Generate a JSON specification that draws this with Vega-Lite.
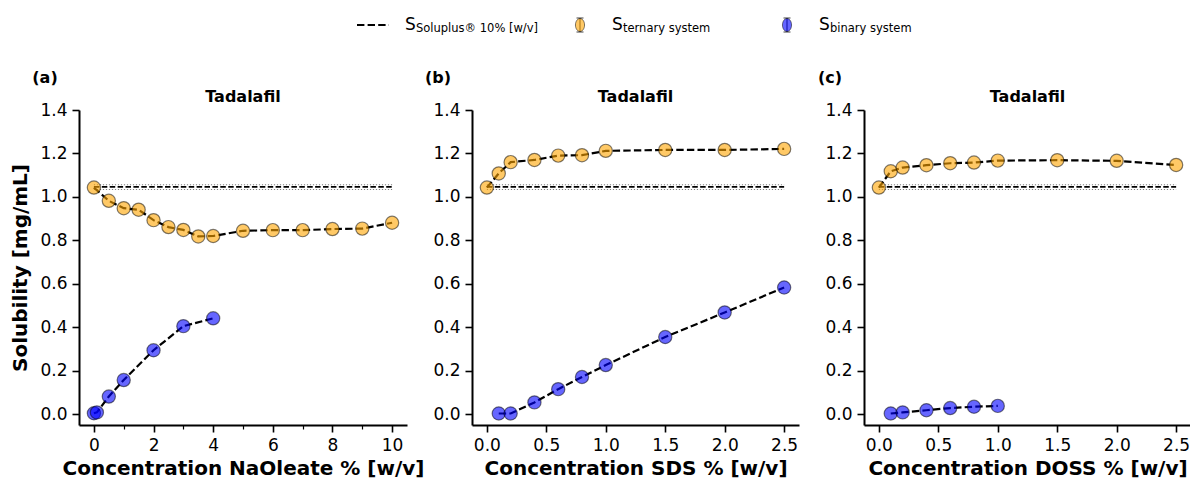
{
  "$schema": "https://vega.github.io/schema/vega-lite/v6.json",
  "padding": {"left": 10, "top": 10, "right": 0, "bottom": 0},
  "background": "white",
  "config": {
    "font": "DejaVu Sans",
    "view": {"stroke": null},
    "axis": {
      "grid": false,
      "domainColor": "black",
      "domainWidth": 2,
      "tickColor": "black",
      "tickWidth": 1.6,
      "tickSize": 7,
      "labelFont": "DejaVu Sans",
      "labelFontSize": 17,
      "labelColor": "black",
      "labelPadding": 5,
      "titleFont": "DejaVu Sans",
      "titleFontSize": 20,
      "titleFontWeight": "bold",
      "titleColor": "black"
    }
  },
  "datasets": {
    "series": [
      {"panel": "a", "sys": "ternary", "x": 0, "y": 1.043},
      {"panel": "a", "sys": "ternary", "x": 0.5, "y": 0.982},
      {"panel": "a", "sys": "ternary", "x": 1, "y": 0.948},
      {"panel": "a", "sys": "ternary", "x": 1.5, "y": 0.941},
      {"panel": "a", "sys": "ternary", "x": 2, "y": 0.893},
      {"panel": "a", "sys": "ternary", "x": 2.5, "y": 0.861},
      {"panel": "a", "sys": "ternary", "x": 3, "y": 0.848},
      {"panel": "a", "sys": "ternary", "x": 3.5, "y": 0.818},
      {"panel": "a", "sys": "ternary", "x": 4, "y": 0.82},
      {"panel": "a", "sys": "ternary", "x": 5, "y": 0.844},
      {"panel": "a", "sys": "ternary", "x": 6, "y": 0.847},
      {"panel": "a", "sys": "ternary", "x": 7, "y": 0.847},
      {"panel": "a", "sys": "ternary", "x": 8, "y": 0.852},
      {"panel": "a", "sys": "ternary", "x": 9, "y": 0.854},
      {"panel": "a", "sys": "ternary", "x": 10, "y": 0.881},
      {"panel": "a", "sys": "binary", "x": 0, "y": 0.004},
      {"panel": "a", "sys": "binary", "x": 0.1, "y": 0.008},
      {"panel": "a", "sys": "binary", "x": 0.5, "y": 0.081},
      {"panel": "a", "sys": "binary", "x": 1, "y": 0.157},
      {"panel": "a", "sys": "binary", "x": 2, "y": 0.294},
      {"panel": "a", "sys": "binary", "x": 3, "y": 0.405},
      {"panel": "a", "sys": "binary", "x": 4, "y": 0.441},
      {"panel": "b", "sys": "ternary", "x": 0, "y": 1.043},
      {"panel": "b", "sys": "ternary", "x": 0.1, "y": 1.108},
      {"panel": "b", "sys": "ternary", "x": 0.2, "y": 1.16},
      {"panel": "b", "sys": "ternary", "x": 0.4, "y": 1.17},
      {"panel": "b", "sys": "ternary", "x": 0.6, "y": 1.19},
      {"panel": "b", "sys": "ternary", "x": 0.8, "y": 1.192},
      {"panel": "b", "sys": "ternary", "x": 1, "y": 1.212},
      {"panel": "b", "sys": "ternary", "x": 1.5, "y": 1.216},
      {"panel": "b", "sys": "ternary", "x": 2, "y": 1.216},
      {"panel": "b", "sys": "ternary", "x": 2.5, "y": 1.221},
      {"panel": "b", "sys": "binary", "x": 0.1, "y": 0.003},
      {"panel": "b", "sys": "binary", "x": 0.2, "y": 0.003},
      {"panel": "b", "sys": "binary", "x": 0.4, "y": 0.054},
      {"panel": "b", "sys": "binary", "x": 0.6, "y": 0.115},
      {"panel": "b", "sys": "binary", "x": 0.8, "y": 0.171},
      {"panel": "b", "sys": "binary", "x": 1, "y": 0.226},
      {"panel": "b", "sys": "binary", "x": 1.5, "y": 0.355},
      {"panel": "b", "sys": "binary", "x": 2, "y": 0.468},
      {"panel": "b", "sys": "binary", "x": 2.5, "y": 0.583},
      {"panel": "c", "sys": "ternary", "x": 0, "y": 1.043},
      {"panel": "c", "sys": "ternary", "x": 0.1, "y": 1.118},
      {"panel": "c", "sys": "ternary", "x": 0.2, "y": 1.135},
      {"panel": "c", "sys": "ternary", "x": 0.4, "y": 1.146},
      {"panel": "c", "sys": "ternary", "x": 0.6, "y": 1.155},
      {"panel": "c", "sys": "ternary", "x": 0.8, "y": 1.158},
      {"panel": "c", "sys": "ternary", "x": 1, "y": 1.167},
      {"panel": "c", "sys": "ternary", "x": 1.5, "y": 1.169},
      {"panel": "c", "sys": "ternary", "x": 2, "y": 1.166},
      {"panel": "c", "sys": "ternary", "x": 2.5, "y": 1.147},
      {"panel": "c", "sys": "binary", "x": 0.1, "y": 0.003},
      {"panel": "c", "sys": "binary", "x": 0.2, "y": 0.008},
      {"panel": "c", "sys": "binary", "x": 0.4, "y": 0.018},
      {"panel": "c", "sys": "binary", "x": 0.6, "y": 0.028},
      {"panel": "c", "sys": "binary", "x": 0.8, "y": 0.034},
      {"panel": "c", "sys": "binary", "x": 1, "y": 0.038}
    ],
    "ref": [
      {"panel": "a", "x": 0, "x2": 10, "mean": 1.046, "lo": 1.034, "hi": 1.056},
      {"panel": "b", "x": 0, "x2": 2.5, "mean": 1.046, "lo": 1.034, "hi": 1.056},
      {"panel": "c", "x": 0, "x2": 2.5, "mean": 1.046, "lo": 1.034, "hi": 1.056}
    ],
    "labels": [
      {"panel": "a", "label": "(a)", "drug": "Tadalafil"},
      {"panel": "b", "label": "(b)", "drug": "Tadalafil"},
      {"panel": "c", "label": "(c)", "drug": "Tadalafil"}
    ],
    "legend": [
      {"item": "1", "kind": "line", "main": "S", "sub": "Soluplus® 10% [w/v]"},
      {"item": "2", "kind": "ternary", "main": "S", "sub": "ternary system"},
      {"item": "3", "kind": "binary", "main": "S", "sub": "binary system"}
    ]
  },
  "spacing": 30,
  "vconcat": [
    {
      "width": 1112,
      "height": 30,
      "data": {"name": "legend"},
      "encoding": {
        "x": {"field": "item", "type": "nominal", "sort": null, "scale": {"type": "point", "padding": 0, "range": [294, 708]}, "axis": null}
      },
      "layer": [
        {
          "transform": [{"filter": "datum.kind == 'line'"}],
          "mark": {"type": "point", "shape": "stroke", "size": 1024, "filled": false, "stroke": "black", "strokeWidth": 2, "strokeDash": [7.4, 3.2], "opacity": 1}
        },
        {
          "transform": [{"filter": "datum.kind != 'line'"}],
          "mark": {"type": "point", "shape": "M0,-1V1M-0.5,-1H0.5M-0.5,1H0.5", "size": 196, "filled": false, "stroke": "#444444", "strokeWidth": 1.2, "opacity": 1}
        },
        {
          "transform": [{"filter": "datum.kind != 'line'"}],
          "mark": {"type": "point", "shape": "M-0.7,0A0.7,1 0 1,0 0.7,0A0.7,1 0 1,0 -0.7,0Z", "size": 169, "filled": true, "fillOpacity": 0.6, "stroke": "black", "strokeOpacity": 0.5, "strokeWidth": 1, "opacity": 1},
          "encoding": {
            "color": {"field": "kind", "type": "nominal", "scale": {"domain": ["ternary", "binary"], "range": ["#FFA500", "#0000FF"]}, "legend": null}
          }
        },
        {
          "mark": {"type": "text", "align": "left", "baseline": "middle", "dx": 32, "fontSize": 17, "color": "black"},
          "encoding": {"text": {"field": "main"}}
        },
        {
          "mark": {"type": "text", "align": "left", "baseline": "middle", "dx": 43, "dy": 4, "fontSize": 11.5, "color": "black"},
          "encoding": {"text": {"field": "sub"}}
        }
      ]
    },
    {
      "spacing": 65,
      "bounds": "flush",
      "hconcat": [
        {
          "width": 328,
          "height": 315,
          "resolve": {"axis": {"x": "independent"}},
          "layer": [
            {
              "data": {"name": "ref"},
              "transform": [{"filter": "datum.panel == 'a'"}],
              "mark": {"type": "rule", "stroke": "gray", "strokeWidth": 1.2, "strokeDash": [1.2, 1.8]},
              "encoding": {
                "x": {"field": "x", "type": "quantitative", "scale": {"domain": [-0.5, 10.5], "nice": false, "zero": false},
                  "axis": {"values": [0, 2, 4, 6, 8, 10], "title": "Concentration NaOleate % [w/v]", "titlePadding": 5, "orient": "bottom"}},
                "x2": {"field": "x2"},
                "y": {"field": "hi", "type": "quantitative", "scale": {"domain": [-0.05, 1.4], "nice": false, "zero": false},
                  "axis": {"values": [0, 0.2, 0.4, 0.6, 0.8, 1.0, 1.2, 1.4], "format": ".1f", "title": "Solubility [mg/mL]", "titlePadding": 9}}
              }
            },
            {
              "data": {"name": "ref"},
              "transform": [{"filter": "datum.panel == 'a'"}],
              "mark": {"type": "rule", "stroke": "gray", "strokeWidth": 1.2, "strokeDash": [1.2, 1.8]},
              "encoding": {
                "x": {"field": "x", "type": "quantitative",
                  "axis": {"orient": "bottom", "values": [1, 3, 5, 7, 9], "labels": false, "domain": false, "tickSize": 4, "tickWidth": 1.2, "title": null}},
                "x2": {"field": "x2"}, "y": {"field": "lo", "type": "quantitative"}}
            },
            {
              "data": {"name": "ref"},
              "transform": [{"filter": "datum.panel == 'a'"}],
              "mark": {"type": "rule", "stroke": "black", "strokeWidth": 1.8, "strokeDash": [5.5, 2.4]},
              "encoding": {"x": {"field": "x", "type": "quantitative", "axis": null}, "x2": {"field": "x2"}, "y": {"field": "mean", "type": "quantitative"}}
            },
            {
              "data": {"name": "series"},
              "transform": [{"filter": "datum.panel == 'a'"}],
              "mark": {"type": "line", "stroke": "black", "strokeWidth": 2.2, "strokeDash": [7.4, 3.2]},
              "encoding": {"x": {"field": "x", "type": "quantitative", "axis": null}, "y": {"field": "y", "type": "quantitative"}, "detail": {"field": "sys"}}
            },
            {
              "data": {"name": "series"},
              "transform": [{"filter": "datum.panel == 'a'"}],
              "mark": {"type": "circle", "size": 175, "opacity": 1, "fillOpacity": 0.6, "stroke": "black", "strokeOpacity": 0.5, "strokeWidth": 1.2},
              "encoding": {
                "x": {"field": "x", "type": "quantitative", "axis": null}, "y": {"field": "y", "type": "quantitative"},
                "fill": {"field": "sys", "type": "nominal", "scale": {"domain": ["ternary", "binary"], "range": ["#FFA500", "#0000FF"]}, "legend": null}
              }
            },
            {
              "data": {"name": "labels"},
              "transform": [{"filter": "datum.panel == 'a'"}],
              "mark": {"type": "text", "align": "center", "baseline": "middle", "dx": -34, "dy": -32, "fontSize": 16, "fontWeight": "bold", "color": "black", "clip": false},
              "encoding": {"x": {"datum": -0.5, "type": "quantitative", "axis": null}, "y": {"datum": 1.4, "type": "quantitative"}, "text": {"field": "label"}}
            },
            {
              "data": {"name": "labels"},
              "transform": [{"filter": "datum.panel == 'a'"}],
              "mark": {"type": "text", "align": "center", "baseline": "alphabetic", "dy": -8, "fontSize": 16, "fontWeight": "bold", "color": "black", "clip": false},
              "encoding": {"x": {"datum": 5, "type": "quantitative", "axis": null}, "y": {"datum": 1.4, "type": "quantitative"}, "text": {"field": "drug"}}
            }
          ]
        },
        {
          "width": 327,
          "height": 315,
          "layer": [
            {
              "data": {"name": "ref"},
              "transform": [{"filter": "datum.panel == 'b'"}],
              "mark": {"type": "rule", "stroke": "gray", "strokeWidth": 1.2, "strokeDash": [1.2, 1.8]},
              "encoding": {
                "x": {"field": "x", "type": "quantitative", "scale": {"domain": [-0.125, 2.625], "nice": false, "zero": false},
                  "axis": {"values": [0, 0.5, 1, 1.5, 2, 2.5], "format": ".1f", "title": "Concentration SDS % [w/v]", "titlePadding": 5}},
                "x2": {"field": "x2"},
                "y": {"field": "hi", "type": "quantitative", "scale": {"domain": [-0.05, 1.4], "nice": false, "zero": false},
                  "axis": {"values": [0, 0.2, 0.4, 0.6, 0.8, 1.0, 1.2, 1.4], "format": ".1f", "title": null}}
              }
            },
            {
              "data": {"name": "ref"},
              "transform": [{"filter": "datum.panel == 'b'"}],
              "mark": {"type": "rule", "stroke": "gray", "strokeWidth": 1.2, "strokeDash": [1.2, 1.8]},
              "encoding": {"x": {"field": "x", "type": "quantitative"}, "x2": {"field": "x2"}, "y": {"field": "lo", "type": "quantitative"}}
            },
            {
              "data": {"name": "ref"},
              "transform": [{"filter": "datum.panel == 'b'"}],
              "mark": {"type": "rule", "stroke": "black", "strokeWidth": 1.8, "strokeDash": [5.5, 2.4]},
              "encoding": {"x": {"field": "x", "type": "quantitative"}, "x2": {"field": "x2"}, "y": {"field": "mean", "type": "quantitative"}}
            },
            {
              "data": {"name": "series"},
              "transform": [{"filter": "datum.panel == 'b'"}],
              "mark": {"type": "line", "stroke": "black", "strokeWidth": 2.2, "strokeDash": [7.4, 3.2]},
              "encoding": {"x": {"field": "x", "type": "quantitative"}, "y": {"field": "y", "type": "quantitative"}, "detail": {"field": "sys"}}
            },
            {
              "data": {"name": "series"},
              "transform": [{"filter": "datum.panel == 'b'"}],
              "mark": {"type": "circle", "size": 175, "opacity": 1, "fillOpacity": 0.6, "stroke": "black", "strokeOpacity": 0.5, "strokeWidth": 1.2},
              "encoding": {
                "x": {"field": "x", "type": "quantitative"}, "y": {"field": "y", "type": "quantitative"},
                "fill": {"field": "sys", "type": "nominal", "scale": {"domain": ["ternary", "binary"], "range": ["#FFA500", "#0000FF"]}, "legend": null}
              }
            },
            {
              "data": {"name": "labels"},
              "transform": [{"filter": "datum.panel == 'b'"}],
              "mark": {"type": "text", "align": "center", "baseline": "middle", "dx": -34, "dy": -32, "fontSize": 16, "fontWeight": "bold", "color": "black", "clip": false},
              "encoding": {"x": {"datum": -0.125, "type": "quantitative"}, "y": {"datum": 1.4, "type": "quantitative"}, "text": {"field": "label"}}
            },
            {
              "data": {"name": "labels"},
              "transform": [{"filter": "datum.panel == 'b'"}],
              "mark": {"type": "text", "align": "center", "baseline": "alphabetic", "dy": -8, "fontSize": 16, "fontWeight": "bold", "color": "black", "clip": false},
              "encoding": {"x": {"datum": 1.25, "type": "quantitative"}, "y": {"datum": 1.4, "type": "quantitative"}, "text": {"field": "drug"}}
            }
          ]
        },
        {
          "width": 327,
          "height": 315,
          "layer": [
            {
              "data": {"name": "ref"},
              "transform": [{"filter": "datum.panel == 'c'"}],
              "mark": {"type": "rule", "stroke": "gray", "strokeWidth": 1.2, "strokeDash": [1.2, 1.8]},
              "encoding": {
                "x": {"field": "x", "type": "quantitative", "scale": {"domain": [-0.125, 2.625], "nice": false, "zero": false},
                  "axis": {"values": [0, 0.5, 1, 1.5, 2, 2.5], "format": ".1f", "title": "Concentration DOSS % [w/v]", "titlePadding": 5}},
                "x2": {"field": "x2"},
                "y": {"field": "hi", "type": "quantitative", "scale": {"domain": [-0.05, 1.4], "nice": false, "zero": false},
                  "axis": {"values": [0, 0.2, 0.4, 0.6, 0.8, 1.0, 1.2, 1.4], "format": ".1f", "title": null}}
              }
            },
            {
              "data": {"name": "ref"},
              "transform": [{"filter": "datum.panel == 'c'"}],
              "mark": {"type": "rule", "stroke": "gray", "strokeWidth": 1.2, "strokeDash": [1.2, 1.8]},
              "encoding": {"x": {"field": "x", "type": "quantitative"}, "x2": {"field": "x2"}, "y": {"field": "lo", "type": "quantitative"}}
            },
            {
              "data": {"name": "ref"},
              "transform": [{"filter": "datum.panel == 'c'"}],
              "mark": {"type": "rule", "stroke": "black", "strokeWidth": 1.8, "strokeDash": [5.5, 2.4]},
              "encoding": {"x": {"field": "x", "type": "quantitative"}, "x2": {"field": "x2"}, "y": {"field": "mean", "type": "quantitative"}}
            },
            {
              "data": {"name": "series"},
              "transform": [{"filter": "datum.panel == 'c'"}],
              "mark": {"type": "line", "stroke": "black", "strokeWidth": 2.2, "strokeDash": [7.4, 3.2]},
              "encoding": {"x": {"field": "x", "type": "quantitative"}, "y": {"field": "y", "type": "quantitative"}, "detail": {"field": "sys"}}
            },
            {
              "data": {"name": "series"},
              "transform": [{"filter": "datum.panel == 'c'"}],
              "mark": {"type": "circle", "size": 175, "opacity": 1, "fillOpacity": 0.6, "stroke": "black", "strokeOpacity": 0.5, "strokeWidth": 1.2},
              "encoding": {
                "x": {"field": "x", "type": "quantitative"}, "y": {"field": "y", "type": "quantitative"},
                "fill": {"field": "sys", "type": "nominal", "scale": {"domain": ["ternary", "binary"], "range": ["#FFA500", "#0000FF"]}, "legend": null}
              }
            },
            {
              "data": {"name": "labels"},
              "transform": [{"filter": "datum.panel == 'c'"}],
              "mark": {"type": "text", "align": "center", "baseline": "middle", "dx": -34, "dy": -32, "fontSize": 16, "fontWeight": "bold", "color": "black", "clip": false},
              "encoding": {"x": {"datum": -0.125, "type": "quantitative"}, "y": {"datum": 1.4, "type": "quantitative"}, "text": {"field": "label"}}
            },
            {
              "data": {"name": "labels"},
              "transform": [{"filter": "datum.panel == 'c'"}],
              "mark": {"type": "text", "align": "center", "baseline": "alphabetic", "dy": -8, "fontSize": 16, "fontWeight": "bold", "color": "black", "clip": false},
              "encoding": {"x": {"datum": 1.25, "type": "quantitative"}, "y": {"datum": 1.4, "type": "quantitative"}, "text": {"field": "drug"}}
            }
          ]
        }
      ]
    }
  ]
}
